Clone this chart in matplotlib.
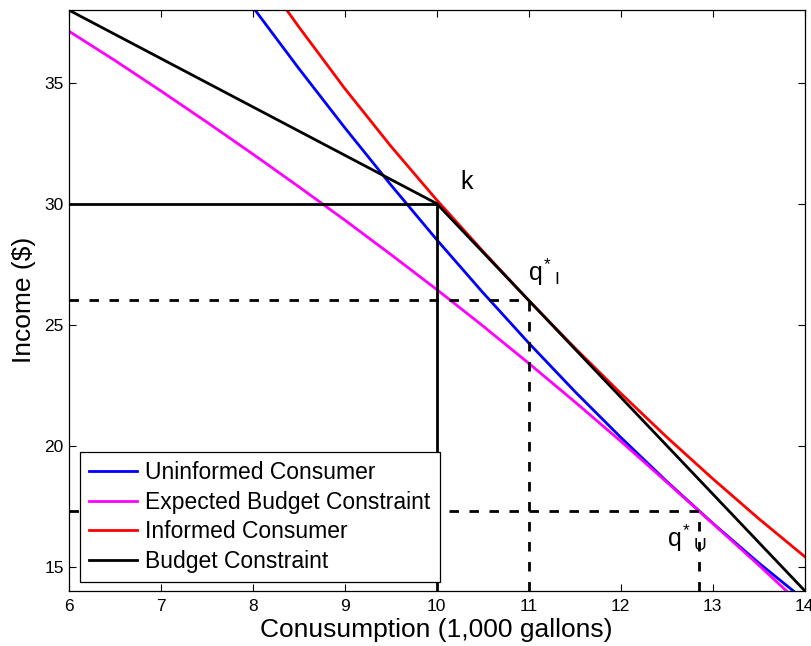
import matplotlib
matplotlib.use("Agg")
import matplotlib.pyplot as plt

plt.rcParams['font.family'] = ['Liberation Sans', 'DejaVu Sans']
plt.rcParams['mathtext.fontset'] = 'custom'
plt.rcParams['mathtext.rm'] = 'Liberation Sans'
plt.rcParams['mathtext.it'] = 'Liberation Sans'
plt.rcParams['mathtext.bf'] = 'Liberation Sans'

# kurwy
x_uninf = [8.0, 8.5, 9.0, 9.5, 10.0, 10.5, 11.0, 11.5, 12.0, 12.5, 13.0, 13.5, 14.0]
y_uninf = [38.13, 35.59, 33.14, 30.78, 28.51, 26.33, 24.24, 22.24, 20.34, 18.52, 16.79, 15.15, 13.61]

x_exp = [6.0, 6.5, 7.0, 7.5, 8.0, 8.5, 9.0, 9.5, 10.0, 10.5, 11.0, 11.5, 12.0, 12.5, 13.0, 13.5, 14.0]
y_exp = [37.13, 35.92, 34.66, 33.37, 32.05, 30.70, 29.32, 27.90, 26.45, 24.95, 23.40, 21.81, 20.18, 18.49, 16.78, 15.06, 13.29]

x_inf = [8.37, 8.5, 9.0, 9.5, 10.0, 10.5, 11.0, 11.5, 12.0, 12.5, 13.0, 13.5, 14.0]
y_inf = [38.0, 37.31, 34.76, 32.38, 30.15, 28.04, 26.0, 24.04, 22.16, 20.35, 18.63, 16.98, 15.41]

x_bc = [6, 10, 14]
y_bc = [38, 30, 14]

k_x, k_y = 10, 30
qI_x, qI_y = 11, 26
qU_x, qU_y = 12.854, 17.3

fig = plt.figure(figsize=(8.12, 6.46), dpi=100)
ax = fig.add_axes([0.0846, 0.0856, 0.9064, 0.8989])

lw = 2
ax.plot(x_uninf, y_uninf, color='#0000ff', lw=lw, label='Uninformed Consumer')
ax.plot(x_exp, y_exp, color='#ff00ff', lw=lw, label='Expected Budget Constraint')
ax.plot(x_inf, y_inf, color='#ff0000', lw=lw, label='Informed Consumer')
ax.plot(x_bc, y_bc, color='k', lw=lw, label='Budget Constraint')

# linie pomocnicze
ax.plot([6, k_x], [k_y, k_y], color='k', lw=lw)
ax.plot([k_x, k_x], [14, k_y], color='k', lw=lw)
ax.plot([6, qI_x], [qI_y, qI_y], color='k', lw=lw, dashes=(3.4, 3.8))
ax.plot([qI_x, qI_x], [14, qI_y], color='k', lw=lw, dashes=(3.4, 3.8))
ax.plot([6, qU_x], [qU_y, qU_y], color='k', lw=lw, dashes=(3.4, 3.8))
ax.plot([qU_x, qU_x], [14, qU_y], color='k', lw=lw, dashes=(3.4, 3.8))

ax.text(10.255, 30.62, 'k', fontsize=18)
ax.text(10.99, 26.8, r'$q^{*}\,_I$', fontsize=18)
ax.text(12.50, 15.82, r'$q^{*}\,_U$', fontsize=18)

ax.set_xlim(6, 14)
ax.set_ylim(14, 38)
ax.set_xticks(range(6, 15))
ax.set_yticks([15, 20, 25, 30, 35])
ax.tick_params(direction='in', top=True, right=True, length=5, width=0.8, labelsize=12.5)
ax.tick_params(axis='x', pad=6)
for s in ax.spines.values():
    s.set_linewidth(0.9)

ax.set_xlabel('Conusumption (1,000 gallons)', fontsize=19, labelpad=3)
ax.set_ylabel('Income ($)', fontsize=19, labelpad=6)

leg = ax.legend(loc='lower left', bbox_to_anchor=(0.0154, 0.0155), borderaxespad=0,
                fontsize=16.5, handlelength=2.1, handletextpad=0.35, labelspacing=0.28,
                fancybox=False, framealpha=1, edgecolor='k', borderpad=0.4)
leg.get_frame().set_linewidth(0.9)

plt.savefig('out.png', dpi=100)
